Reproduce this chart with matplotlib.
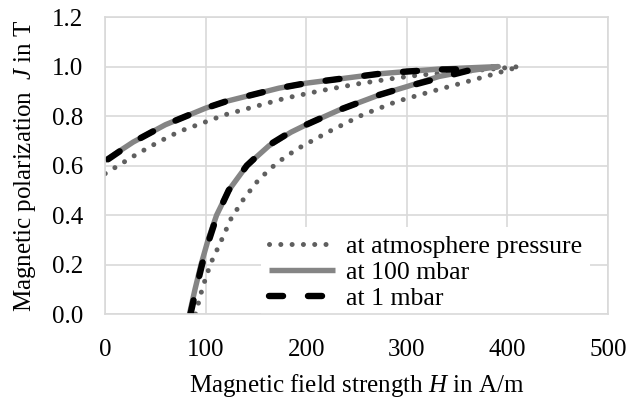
import matplotlib
matplotlib.use('Agg')
from matplotlib import pyplot as plt

plt.rcParams['font.family'] = ['Liberation Serif', 'DejaVu Serif']
plt.rcParams['mathtext.fontset'] = 'custom'
plt.rcParams['mathtext.rm'] = 'Liberation Serif'
plt.rcParams['mathtext.it'] = 'Liberation Serif:italic'

# hysteresis loops (H in A/m, J in T)
# each list: rising branch up to the tip, then falling branch back to H = 0
H_atm = [90, 97, 105, 115, 125, 138, 153, 171, 191, 223, 256, 290, 325, 350, 380, 412,
         350, 313, 288, 251, 215, 180, 119, 97, 74, 53, 32, 12, 0]
J_atm = [0.0, 0.107, 0.204, 0.291, 0.383, 0.466, 0.544, 0.611, 0.667, 0.738, 0.805, 0.859, 0.9, 0.928, 0.962, 1.0,
         0.978, 0.966, 0.953, 0.93, 0.903, 0.873, 0.805, 0.772, 0.738, 0.695, 0.647, 0.597, 0.567]

H_100 = [84, 89.5, 95.5, 102.5, 111, 123, 141, 163, 185, 200, 233, 273, 300, 332, 360, 391,
         332, 300, 273, 200, 173, 120, 100, 60, 28, 0]
J_100 = [0.0, 0.1, 0.2, 0.3, 0.4, 0.5, 0.6, 0.68, 0.735, 0.765, 0.825, 0.886, 0.919, 0.96, 0.982, 1.0,
         0.99, 0.98, 0.971, 0.933, 0.913, 0.859, 0.832, 0.765, 0.695, 0.62]

H_1 = [85, 90.5, 96.5, 103.5, 111.5, 123, 141, 162, 184, 200, 233, 273, 300, 325, 367,
       332, 300, 273, 200, 173, 120, 100, 60, 28, 0]
J_1 = [0.0, 0.1, 0.2, 0.3, 0.4, 0.5, 0.6, 0.68, 0.735, 0.765, 0.825, 0.886, 0.919, 0.946, 0.99,
       0.988, 0.98, 0.971, 0.933, 0.913, 0.859, 0.832, 0.765, 0.695, 0.617]

labels = ['at atmosphere pressure', 'at 100 mbar', 'at 1 mbar']

fig = plt.figure(figsize=(6.31, 3.98), dpi=100)
ax = fig.add_axes([0.1664, 0.211, 0.797, 0.746])

ax.plot(H_atm, J_atm, color='#5f5f5f', lw=3.6, ls=(0, (0.01, 2.25)),
        dash_capstyle='round', label=labels[0])
ax.plot(H_100, J_100, color='#858585', lw=3.9, solid_capstyle='butt', label=labels[1])
ax.plot(H_1, J_1, color='black', lw=4.6, ls=(0, (2.2, 3.9)),
        dash_capstyle='round', label=labels[2])

ax.set_xlim(0, 500)
ax.set_ylim(0, 1.2)
ax.set_xticks([0, 100, 200, 300, 400, 500])
ax.set_yticks([0.0, 0.2, 0.4, 0.6, 0.8, 1.0, 1.2])
ax.set_yticklabels(['%.1f' % v for v in ax.get_yticks()])
ax.grid(True, color='#d9d9d9', lw=1.2)
ax.set_axisbelow(True)
for s in ax.spines.values():
    s.set_color('#d9d9d9')
    s.set_linewidth(1.2)
ax.tick_params(length=0, labelsize=18)
ax.tick_params(axis='x', pad=18)
ax.tick_params(axis='y', pad=16)

ax.set_xlabel('Magnetic field strength $H$ in A/m', fontsize=18, labelpad=8)
ax.set_ylabel('Magnetic polarization  $J$ in T', fontsize=18, labelpad=10)

leg = ax.legend(loc='lower right', bbox_to_anchor=(0.965, -0.012), frameon=True, fontsize=18.5,
                handlelength=2.6, handletextpad=0.43, labelspacing=0.12,
                borderaxespad=0.0, borderpad=0.3, facecolor='white', edgecolor='none',
                framealpha=1.0, fancybox=False)
# keep the white legend box under the axis frame, like the original
leg.set_zorder(2.2)

fig.savefig('out.png', dpi=100)
